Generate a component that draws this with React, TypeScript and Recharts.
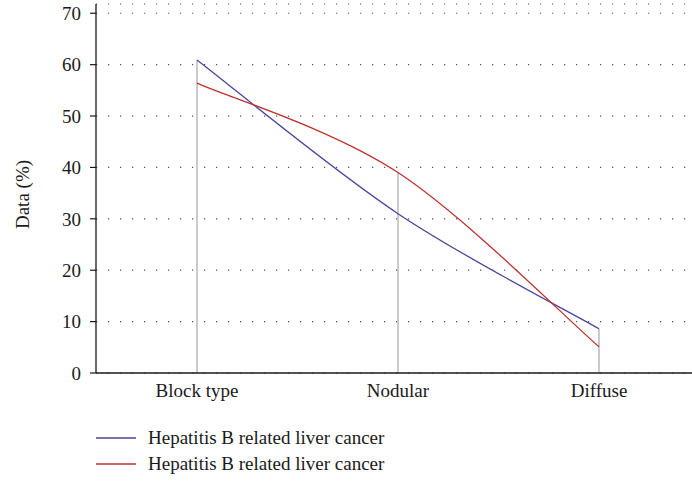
import React from 'react';
import {
  LineChart,
  Line,
  XAxis,
  YAxis,
  CartesianGrid,
  ReferenceLine,
} from 'recharts';

const categories = ['Block type', 'Nodular', 'Diffuse'];
const seriesA = [60.9, 31.0, 8.6];
const seriesB = [56.4, 39.0, 5.1];
const seriesNames = ['Hepatitis B related liver cancer', 'Hepatitis B related liver cancer'];
const yTicks = [0, 10, 20, 30, 40, 50, 60, 70];

const BLUE = '#46469c';
const RED = '#c0302c';
const FONT = '"Liberation Serif", "DejaVu Serif", serif';
const FS = 19;

const data = categories.map((name, i) => ({
  name,
  a: seriesA[i],
  b: seriesB[i],
  top: Math.max(seriesA[i], seriesB[i]),
}));

const legendItems = [
  { label: seriesNames[0], color: BLUE },
  { label: seriesNames[1], color: RED },
];

// smooth line like the original's (Catmull-Rom through the points)
function smoothCurve(context: any) {
  let pts: number[][] = [];
  return {
    areaStart() {},
    areaEnd() {},
    lineStart() {
      pts = [];
    },
    point(x: number, y: number) {
      pts.push([+x, +y]);
    },
    lineEnd() {
      if (!pts.length) return;
      context.moveTo(pts[0][0], pts[0][1]);
      for (let i = 0; i < pts.length - 1; i++) {
        const p0 = pts[i - 1] || pts[i];
        const p1 = pts[i];
        const p2 = pts[i + 1];
        const p3 = pts[i + 2] || pts[i + 1];
        context.bezierCurveTo(
          p1[0] + (p2[0] - p0[0]) / 6,
          p1[1] + (p2[1] - p0[1]) / 6,
          p2[0] - (p3[0] - p1[0]) / 6,
          p2[1] - (p3[1] - p1[1]) / 6,
          p2[0],
          p2[1]
        );
      }
    },
  };
}

function LegendBox() {
  return (
    <div style={{ fontFamily: FONT, fontSize: FS, color: '#1a1a1a' }}>
      {legendItems.map((item, i) => (
        <div key={i} style={{ display: 'flex', alignItems: 'center', height: 26 }}>
          <svg width={40} height={4} style={{ marginRight: 12 }}>
            <line x1={0} y1={2} x2={40} y2={2} stroke={item.color} strokeWidth={1.3} />
          </svg>
          <span>{item.label}</span>
        </div>
      ))}
    </div>
  );
}

function YLabel(props: any) {
  const vb = props.viewBox;
  const cx = 22;
  const cy = vb.y + vb.height / 2 + 6;
  return (
    <text
      x={cx}
      y={cy}
      transform={`rotate(-90 ${cx} ${cy})`}
      textAnchor="middle"
      dominantBaseline="central"
      fontFamily={FONT}
      fontSize={FS}
      fill="#1a1a1a"
    >
      Data (%)
    </text>
  );
}

export default function App() {
  return (
    <div style={{ position: 'relative', width: 692, height: 481 }}>
      <style>{`body{margin:0;background:#fff}`}</style>
      <LineChart
        width={692}
        height={481}
        data={data}
        margin={{ top: 4, right: 0, left: 0, bottom: 108 - 30 }}
      >
        <CartesianGrid
          horizontal
          vertical={false}
          stroke="#555"
          strokeWidth={1.2}
          strokeDasharray="1.2 10.8"
        />
        <XAxis
          dataKey="name"
          scale="point"
          padding={{ left: 101, right: 93 }}
          tickLine={false}
          tickSize={0}
          tickMargin={11}
          axisLine={{ stroke: '#1a1a1a', strokeWidth: 1.3 }}
          height={30}
          tick={{ fontFamily: FONT, fontSize: FS, fill: '#1a1a1a' }}
        />
        <YAxis
          domain={[0, 71.8]}
          ticks={yTicks}
          width={96}
          tickSize={6}
          tickMargin={9}
          axisLine={{ stroke: '#1a1a1a', strokeWidth: 1.3 }}
          tickLine={{ stroke: '#1a1a1a', strokeWidth: 1.2 }}
          tick={{ fontFamily: FONT, fontSize: FS, fill: '#1a1a1a' }}
          label={<YLabel />}
        />
        {data.map((d) => (
          <ReferenceLine
            key={d.name}
            segment={[
              { x: d.name, y: 0 },
              { x: d.name, y: d.top },
            ]}
            stroke="#bdbdbd"
            strokeWidth={1.6}
          />
        ))}
        <Line
          type={smoothCurve as any}
          dataKey="a"
          name={seriesNames[0]}
          stroke={BLUE}
          strokeWidth={1.3}
          dot={false}
          isAnimationActive={false}
        />
        <Line
          type={smoothCurve as any}
          dataKey="b"
          name={seriesNames[1]}
          stroke={RED}
          strokeWidth={1.3}
          dot={false}
          isAnimationActive={false}
        />
      </LineChart>
      <div style={{ position: 'absolute', left: 96, top: 425 }}>
        <LegendBox />
      </div>
    </div>
  );
}
